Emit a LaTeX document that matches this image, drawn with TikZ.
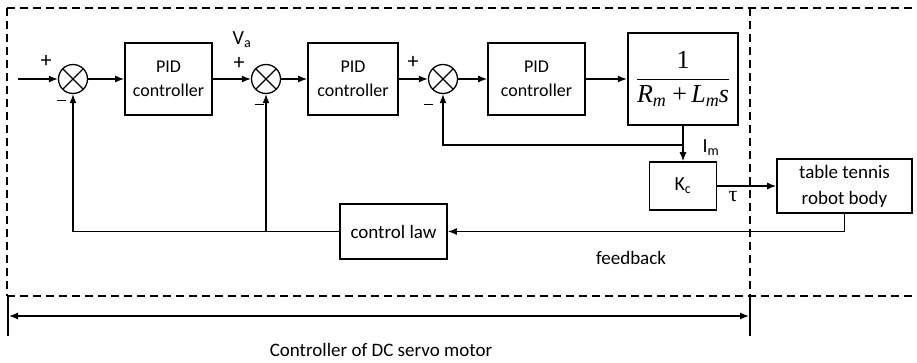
\documentclass[tikz,border=0pt]{standalone}
\usepackage{fontspec}
\setmainfont{Carlito}
\newfontfamily\tnr{Liberation Serif}
\usetikzlibrary{arrows.meta}
\tikzset{
  x=1pt, y=-1pt,
  blk/.style={draw, line width=1.6pt, align=center, inner sep=0pt, font=\fontsize{18}{24}\selectfont},
  sumj/.style={draw, circle, line width=1.3pt, minimum size=29pt, inner sep=0pt,
    path picture={\draw[line width=1.3pt] (path picture bounding box.north west) -- (path picture bounding box.south east)
      (path picture bounding box.north east) -- (path picture bounding box.south west);}},
  arr/.style={line width=1.3pt, -{Latex[length=9pt,width=7pt]}},
  dsh/.style={line width=1.3pt, dash pattern=on 8pt off 5pt},
  lbl/.style={inner sep=0pt, font=\fontsize{19}{22}\selectfont},
  sgn/.style={inner sep=0pt, font=\fontsize{22}{24}\selectfont},
  tick/.style={line width=2pt},
}
\newcommand{\mysign}{\rule[0.25ex]{9pt}{1.4pt}}
\begin{document}
\begin{tikzpicture}
\useasboundingbox (0,0) rectangle (917,362);
% dashed frame
\coordinate (tl) at (7,8);
\coordinate (tr) at (917,8);
\coordinate (bl) at (7,296);
\coordinate (br) at (917,296);
\coordinate (mt) at (750,8);
\coordinate (mb) at (750,296);
\draw[dsh] (tl) -- (tr);
\draw[dsh] (bl) -- (br);
\draw[dsh] (tl) -- (bl);
\draw[dsh] (mt) -- (mb);
% blocks
\coordinate (in) at (18,79);
\node[sumj] (s1) at (73,79) {};
\node[blk, minimum width=87pt, minimum height=72pt] (pid1) at (168.5,79) {PID\\controller};
\node[sumj] (s2) at (266,79) {};
\node[blk, minimum width=90pt, minimum height=72pt] (pid2) at (353,79) {PID\\controller};
\node[sumj] (s3) at (443,79) {};
\node[blk, minimum width=97pt, minimum height=72pt] (pid3) at (536.5,79) {PID\\controller};
\node[draw, line width=2.4pt, minimum width=110pt, minimum height=92pt, inner sep=0pt] (plant) at (683,79)
  {\fontsize{26}{30}\selectfont$\displaystyle\frac{\hbox{\tnr 1}}{\hbox{\tnr\itshape R\raisebox{-0.3ex}{\fontsize{18}{18}\selectfont m}\upshape\ +\,\itshape L\raisebox{-0.3ex}{\fontsize{18}{18}\selectfont m}s}}$};
\node[blk, minimum width=67pt, minimum height=48pt, font=\fontsize{20}{24}\selectfont] (kc) at (683,186) {K\textsubscript{c}};
\node[blk, minimum width=135pt, minimum height=54pt, font=\fontsize{19}{26}\selectfont] (robot) at (844.5,186) {table tennis\\robot body};
\node[blk, minimum width=107pt, minimum height=55pt, font=\fontsize{19}{24}\selectfont] (claw) at (393.5,231.5) {control law};
% forward path
\draw[arr] (in) -- (s1.west);
\draw[arr] (s1.east) -- (pid1.west);
\draw[arr] (pid1.east) -- (s2.west);
\draw[arr] (s2.east) -- (pid2.west);
\draw[arr] (pid2.east) -- (s3.west);
\draw[arr] (s3.east) -- (pid3.west);
\draw[arr] (pid3.east) -- (plant.west);
\draw[arr] (plant.south) -- (kc.north);
\coordinate (b1) at (683,145);
\draw[arr] (b1) -| (s3.south);
\draw[arr] (kc.east) -- (robot.west);
\draw[arr] (robot.south) |- (claw.east);
\draw[arr] (claw.west) -| (s1.south);
\coordinate (b2) at (266,231.5);
\draw[arr] (b2) -- (s2.south);
% signs and labels
\node[sgn] (p1) at (46,61) {+};
\node[sgn] (m1) at (61,102) {\mysign};
\node[lbl, font=\fontsize{20}{22}\selectfont] (va) at (242,40) {V\textsubscript{a}};
\node[sgn] (p2) at (239,63) {+};
\node[sgn] (m2) at (259,106) {\mysign};
\node[sgn] (p3) at (413,62) {+};
\node[sgn] (m3) at (428,106) {\mysign};
\node[lbl, font=\fontsize{20}{22}\selectfont] (im) at (711,148) {I\textsubscript{m}};
\node[lbl, font=\tnr\fontsize{22}{24}\selectfont] (tau) at (733,197) {τ};
\node[lbl] (fb) at (631,258) {feedback};
% dimension
\coordinate (d1t) at (8,296);
\coordinate (d1b) at (8,336);
\coordinate (d2t) at (750,296);
\coordinate (d2b) at (750,336);
\draw[tick] (d1t) -- (d1b);
\draw[tick] (d2t) -- (d2b);
\coordinate (a1) at (9,316);
\coordinate (a2) at (749,316);
\draw[line width=1.3pt, {Latex[length=9pt,width=7pt]}-{Latex[length=9pt,width=7pt]}] (a1) -- (a2);
\node[lbl] (ctl) at (381,350) {Controller of DC servo motor};
\end{tikzpicture}
\end{document}
